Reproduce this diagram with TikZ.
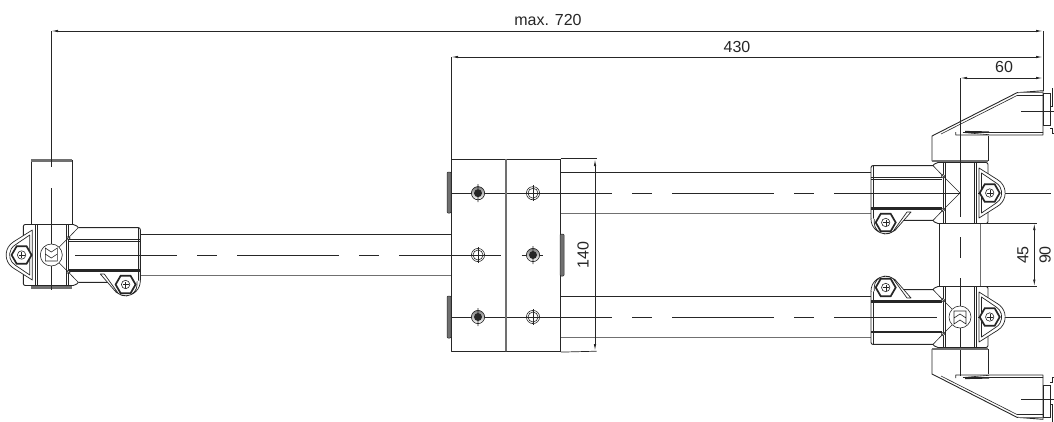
\documentclass[tikz,border=0pt]{standalone}
\usepackage{fontspec}
\setmainfont{Liberation Sans}
\usetikzlibrary{arrows.meta}
\definecolor{ink}{HTML}{262626}
\definecolor{shade}{HTML}{707070}
\tikzstyle{part} = [draw=ink, line width=0.9pt, line join=round]
\tikzstyle{hair} = [draw=ink, line width=0.6pt]
\tikzstyle{graybar} = [draw=shade, line width=1.6pt]
\tikzstyle{pad} = [draw=ink, line width=0.5pt, fill=shade, rounded corners=1pt]
\tikzstyle{centre} = [draw=ink, line width=0.8pt]
\tikzstyle{dimline} = [draw=ink, line width=0.7pt]
\tikzstyle{dimarrow} = [draw=ink, line width=0.8pt, {Latex[length=7pt,width=2.4pt]}-{Latex[length=7pt,width=2.4pt]}]
\tikzstyle{dimtext} = [inner sep=0pt, font=\fontsize{16}{16}\selectfont, text=ink]

% hexagon head with its inner ring
\newcommand{\hexbolt}[2]{
	\draw [shift={(#1,#2)}, draw=ink, line width=1.7pt, fill=white] (0:10) -- (60:10) -- (120:10) -- (180:10) -- (240:10) -- (300:10) -- cycle;
	\draw [hair, shift={(#1,#2)}] (0,0) circle (4.2);
	\draw [hair, shift={(#1,#2)}, line width=0.4pt] (-3,0) -- (3,0) (0,-3) -- (0,3);
}
% clamp drawn around its centre, arm to the left, arm bolt above
\newcommand{\clampbody}{
	\draw [part, rounded corners=2pt] (-27,-27.4) -- (-89,-27.4) -- (-89,27.4) -- (-27,27.4);
	\draw [part, rounded corners=2pt] (-27,-27.4) -- (-24,-30.5) -- (28,-30.5) -- (28,30.5) -- (-24,30.5) -- (-27,27.4);
	\draw [part, line width=1.2pt] (-89,-16) -- (-18,-16) (-89,15.5) -- (-18,15.5);
	\draw [hair] (-89,-14.6) -- (-18,-14.6) (-89,14) -- (-18,14) (-87,-27) -- (-87,27);
	\draw [hair] (-16.8,-30.5) -- (-16.8,30.5) (-15,-30.5) -- (-15,30.5) (14,-30.5) -- (14,30.5) (16,-30.5) -- (16,30.5);
	\draw [hair, fill=white] (-17,-17) circle (1.8) (-17,17) circle (1.8);
	% arm bolt
	\fill [white] (-89,-26) arc (180:310:14.7) -- (-49,-19) -- cycle;
	\draw [part, line width=0.7pt] (-89,-26) arc (180:310:14.7) -- (-49,-19) -- (-53,-19) -- (-66.9,-38.3) arc (310:180:11.5) -- (-85.8,-26);
	\hexbolt{-74.3}{-29.5}
	% end bolt
	\draw [part, line width=0.7pt, fill=white] (19,-25) -- (37.4,-13.4) arc (-60:60:15.5) -- (19,25) -- cycle;
	\draw [part, line width=0.7pt] (21.5,-20) -- (35.7,-10.4) arc (-60:60:12) -- (21.5,20) -- cycle;
	\hexbolt{29.7}{0}
}
\newcommand{\clampdiag}{
	\draw [hair] (-27,-27.4) -- (-17,-17) -- (-8,-8) (-27,27.4) -- (-17,17) -- (-8,8);
	\draw [hair, fill=white] (0,0) circle (11);
	\draw [hair] (-6,-6) -- (6,-6) -- (6,7) -- (0,3) -- (-6,7) -- cycle (-6,1) -- (0,-3) -- (6,1);
}
% wedge body seen below its clamp
\newcommand{\wedgebody}{
	\draw [part] (-28,32) -- (-28,57) -- (57,100.3) -- (83,102.3) -- (83,58) -- (-4.3,58) -- (-4.3,61);
	\draw [part] (28,32) -- (28,57);
	\draw [graybar] (-28,32) -- (28,32);
	\draw [hair] (-19,59) -- (57,97.5) -- (83,97.5);
	\draw [graybar] (58,100.6) -- (83,100.6);
	\draw [hair] (3,60.5) -- (83,60.5) (3,60.5) -- (29,58.3);
	\draw [part, line width=1.2pt] (5,61.5) -- (29,61);
	\draw [hair] (83,68) rectangle (90,100);
	\draw [hair] (90,87) -- (92.5,87) -- (92.5,105) (90,65) -- (92.5,65) -- (92.5,60) -- (94,60);
	\draw [centre] (61,82) -- (94,82);
}
% plate screws
\newcommand{\openscrew}[2]{
	\draw [hair, shift={(#1,#2)}] (0,0) circle (6.6) (0,0) circle (5);
	\draw [hair, shift={(#1,#2)}] (0,-8) -- (0,8);
}
\newcommand{\fullscrew}[2]{
	\fill [shade, shift={(#1,#2)}] (0,0) circle (6.6);
	\draw [hair, shift={(#1,#2)}] (0,0) circle (6.6) (0,-9) -- (0,9);
	\fill [ink, shift={(#1,#2)}] (0,0) circle (4);
}

\begin{document}
\begin{tikzpicture}[x=1pt, y=-1pt]
	\useasboundingbox (0,0) rectangle (1054,421);
	\clip (0,0) rectangle (1054,421);

	% named points of the dimension lines
	\coordinate (maxleft) at (51,31);
	\coordinate (maxright) at (1043,31);
	\coordinate (outerleft) at (451,57);
	\coordinate (outerright) at (1043,57);
	\coordinate (widthleft) at (960,78);
	\coordinate (widthright) at (1043,78);
	\coordinate (platetop) at (595,159);
	\coordinate (platebottom) at (595,351);
	\coordinate (gaptop) at (1034.3,223);
	\coordinate (gapbottom) at (1034.3,286.5);

	% tubes
	\draw [part] (140,234) -- (451,234);
	\draw [graybar, line width=1.2pt] (140,275.7) -- (451,275.7);
	\draw [part] (560,172.3) -- (871,172.3);
	\draw [graybar, line width=1.2pt] (560,213.7) -- (871,213.7);
	\draw [part] (560,296.3) -- (871,296.3);
	\draw [graybar, line width=1.2pt] (560,337.7) -- (871,337.7);
	\draw [part] (31,160) -- (31,224) (72,160) -- (72,224);
	\draw [graybar, line width=3pt] (31,160.5) -- (72,160.5) (31,287.5) -- (72,287.5);
	\draw [part] (939.7,223) -- (939.7,286.5);
	\draw [graybar, line width=1.2pt] (980.7,223) -- (980.7,286.5);

	% centre lines
	\foreach \a/\b in {75/177, 197/217, 237/339, 359/379, 399/501, 521.7/542.7}
		\draw [centre] (\a,255) -- (\b,255);
	\foreach \a/\b in {447/612, 632/652, 672/774, 794/814, 834/960, 978/1051}
		\draw [centre] (\a,193.2) -- (\b,193.2);
	\foreach \a/\b in {447/612, 632/652, 672/774, 794/814, 834/937, 978/1051}
		\draw [centre] (\a,317) -- (\b,317);
	\draw [centre] (51.3,31) -- (51.3,167) (51.3,188) -- (51.3,290);
	\draw [centre] (960,237) -- (960,258) (960,278) -- (960,376);

	% plates
	\node [part, minimum width=54pt, minimum height=192.5pt, inner sep=0pt, anchor=north west] (plateleft) at (451,158.7) {};
	\node [part, minimum width=54pt, minimum height=192.5pt, inner sep=0pt, anchor=north west] (plateright) at (506,158.7) {};
	\draw [graybar, line width=2pt] (506,159) -- (506,351);
	\draw [part, line width=1.1pt] (plateright.north east) -- (plateright.south east);
	\draw [pad] (447,172) rectangle (451,213);
	\draw [pad] (447,296) rectangle (451,338);
	\draw [pad] (560,234) rectangle (564,276);
	\foreach \y in {193.2,317} {
		\fullscrew{478}{\y}
		\openscrew{533}{\y}
	}
	\openscrew{478}{255}
	\fullscrew{533}{255}
	\draw [centre] (470,255) -- (486,255);

	% clamps
	\begin{scope}[shift={(51.3,255)}, xscale=-1, yscale=-1]
		\clampbody
		\clampdiag
	\end{scope}
	\begin{scope}[shift={(960,317)}]
		\clampbody
		\clampdiag
		\wedgebody
	\end{scope}
	\begin{scope}[shift={(960,193)}, yscale=-1]
		\clampbody
		\draw [hair] (-27,-27.4) -- (-17,-17) -- (0,0) -- (-17,17) -- (-27,27.4);
		\wedgebody
	\end{scope}

	% dimensions
	\draw [dimarrow] (maxleft) -- (maxright);
	\draw [dimarrow] (outerleft) -- (outerright);
	\draw [dimarrow] (widthleft) -- (widthright);
	\draw [dimarrow] (platetop) -- (platebottom);
	\draw [dimarrow] (gaptop) -- (gapbottom);
	\draw [dimline] (maxright) -- (1043,91);
	\draw [dimline] (outerleft) -- (451,159);
	\draw [dimline] (widthleft) -- (960,217);
	\draw [dimline] (plateright.north east) -- (596.5,158.7);
	\draw [dimline] (plateright.south east) -- (596.5,351.2);
	\draw [dimline] (980.7,223) -- (1037,223);
	\draw [dimline] (980.7,286.5) -- (1037,286.5);
	\node [dimtext] (maxlabel) at (548,20) {max. 720};
	\node [dimtext] (outerlabel) at (737,47) {430};
	\node [dimtext] (widthlabel) at (1004,67) {60};
	\node [dimtext, rotate=90] (platelabel) at (583,255) {140};
	\node [dimtext, rotate=90] (gaplabel) at (1023,255) {45};
	\node [dimtext, rotate=90] (spanlabel) at (1045,255) {90};
\end{tikzpicture}
\end{document}
